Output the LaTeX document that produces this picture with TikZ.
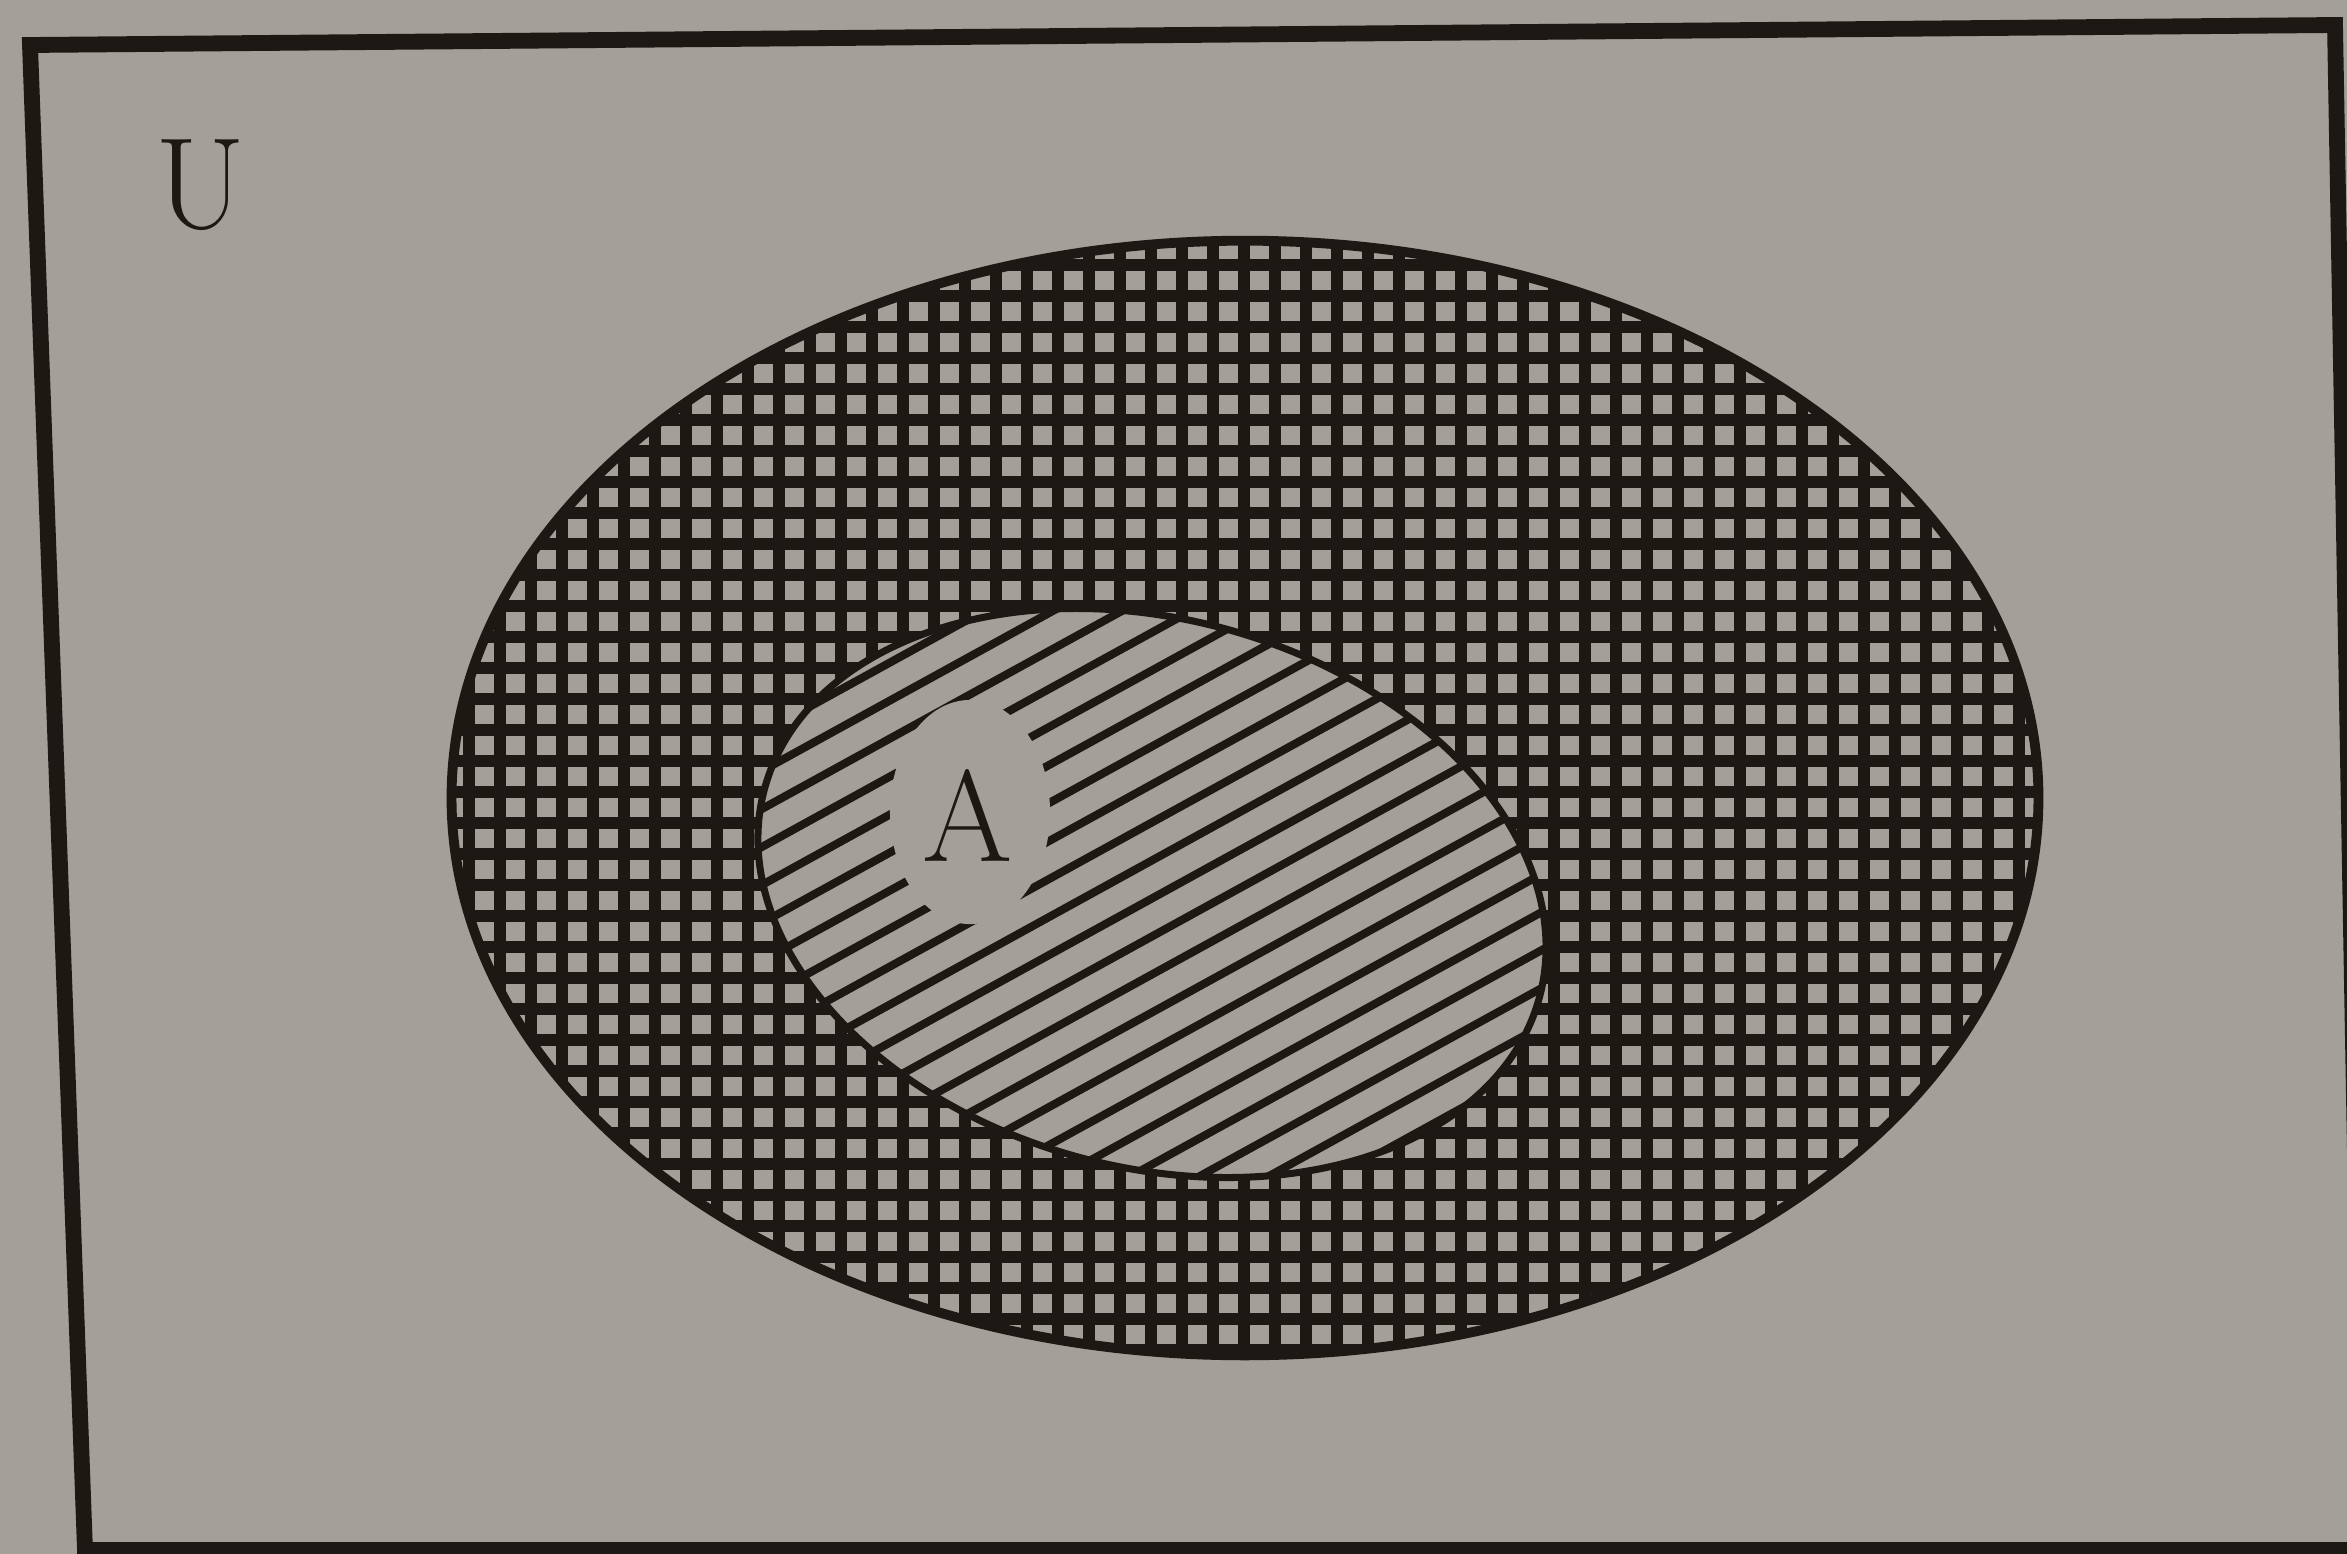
\documentclass[tikz,border=0pt]{standalone}
\definecolor{paper}{RGB}{162,160,152}
\definecolor{ink}{RGB}{28,24,20}
\begin{document}
\begin{tikzpicture}[x=0.01cm,y=-0.01cm,
  frame/.style={draw=ink,line width=4.5pt,line join=miter},
  gridline/.style={draw=ink,line width=3.6pt},
  hatchline/.style={draw=ink,line width=2.3pt},
  setlabel/.style={text=ink,font=\fontsize{37}{40}\selectfont,inner sep=0pt}]
\fill[paper] (0,0) rectangle (2347,1554);
\useasboundingbox (0,0) rectangle (2347,1554);
% outer set: cross-hatched
\begin{scope}
\clip (1245,798) ellipse [x radius=7.93cm, y radius=5.57cm];
\foreach \x in {438,469,...,2060} \draw[gridline] (\x,200) -- (\x,1400);
\foreach \y in {234,265,...,1370} \draw[gridline] (400,\y) -- (2100,\y);
\end{scope}
% inner set A: hatched
\begin{scope}
\clip[rotate around={-15:(1152,893)}] (1152,893) ellipse [x radius=4.01cm, y radius=2.74cm];
\fill[paper] (600,600) rectangle (1700,1200);
\foreach \yy in {691,729,...,1620} \draw[hatchline] (700,\yy) -- (1600,\yy-495);
\fill[paper] (970,812) ellipse [x radius=0.8cm, y radius=1.12cm];
\end{scope}
\draw[ink,line width=2pt,rotate around={-15:(1152,893)}] (1152,893) ellipse [x radius=4.01cm, y radius=2.74cm];
\draw[ink,line width=2.8pt] (1245,798) ellipse [x radius=7.93cm, y radius=5.57cm];
% universe frame
\draw[frame] (30,45) -- (2335,25) -- (2362,1550) -- (85,1550) -- cycle;
\node[setlabel] (U) at (201,185) {U};
\node[setlabel] (A) at (968,815) {A};
\end{tikzpicture}
\end{document}
